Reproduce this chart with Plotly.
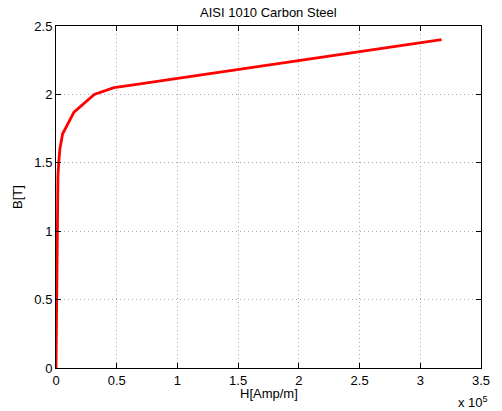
import plotly.graph_objects as go

# B-H curve of AISI 1010 carbon steel
H_vals = [0, 240, 320, 360, 440, 480, 640, 800, 1110, 1270, 1590, 2230, 3180,
          5400, 14800, 31500, 47700, 63700, 317500]
B_vals = [0, 0.20, 0.32, 0.40, 0.60, 0.70, 0.90, 1.10, 1.20, 1.30, 1.40, 1.50, 1.60,
          1.71, 1.87, 2.00, 2.05, 2.07, 2.40]

x_tick_vals = [0, 50000, 100000, 150000, 200000, 250000, 300000, 350000]
x_tick_text = ["0", "0.5", "1", "1.5", "2", "2.5", "3", "3.5"]
y_tick_vals = [0, 0.5, 1, 1.5, 2, 2.5]
y_tick_text = ["0", "0.5", "1", "1.5", "2", "2.5"]

title_text = "AISI 1010 Carbon Steel"
x_label = "H[Amp/m]"
y_label = "B[T]"
x_exponent = "x 10<sup>5</sup>"

font_family = "Liberation Sans, Arial, Helvetica, sans-serif"
fs = 13

fig = go.Figure()
fig.add_trace(go.Scatter(x=H_vals, y=B_vals, mode="lines",
                         line=dict(color="#ff0000", width=2.8),
                         showlegend=False, hoverinfo="skip"))

axis_common = dict(
    showline=True, linecolor="black", linewidth=1, mirror="ticks",
    ticks="inside", ticklen=5, tickcolor="black", tickwidth=1,
    showgrid=True, gridcolor="#a8a8a8", griddash="1px,3px", gridwidth=1,
    zeroline=False, tickfont=dict(family=font_family, size=fs, color="black"),
)

fig.update_layout(
    width=502, height=411,
    margin=dict(l=56, r=13, t=26, b=43),
    paper_bgcolor="white", plot_bgcolor="white",
    font=dict(family=font_family, size=fs, color="black"),
    xaxis=dict(range=[0, 350000], tickvals=x_tick_vals, ticktext=x_tick_text, **axis_common),
    yaxis=dict(range=[0, 2.5], tickvals=y_tick_vals, ticktext=y_tick_text, **axis_common),
    annotations=[
        dict(text=title_text, xref="paper", yref="paper", x=0.5, y=1, yshift=14,
             showarrow=False, xanchor="center", yanchor="middle",
             font=dict(family=font_family, size=fs)),
        dict(text=x_label, xref="paper", yref="paper", x=0.5, y=0, yshift=-25,
             showarrow=False, xanchor="center", yanchor="middle",
             font=dict(family=font_family, size=fs)),
        dict(text=y_label, xref="paper", yref="paper", x=0, y=0.5, xshift=-39,
             showarrow=False, xanchor="center", yanchor="middle", textangle=-90,
             font=dict(family=font_family, size=fs)),
        dict(text=x_exponent, xref="paper", yref="paper", x=1, y=0, yshift=-34,
             xshift=9, showarrow=False, xanchor="right", yanchor="middle",
             font=dict(family=font_family, size=fs)),
    ],
)

# remove the page's default 8px body margin so the figure fills the window exactly
fig.write_html("out.html", config={"displayModeBar": False},
               post_script="document.body.style.margin='0px';")
